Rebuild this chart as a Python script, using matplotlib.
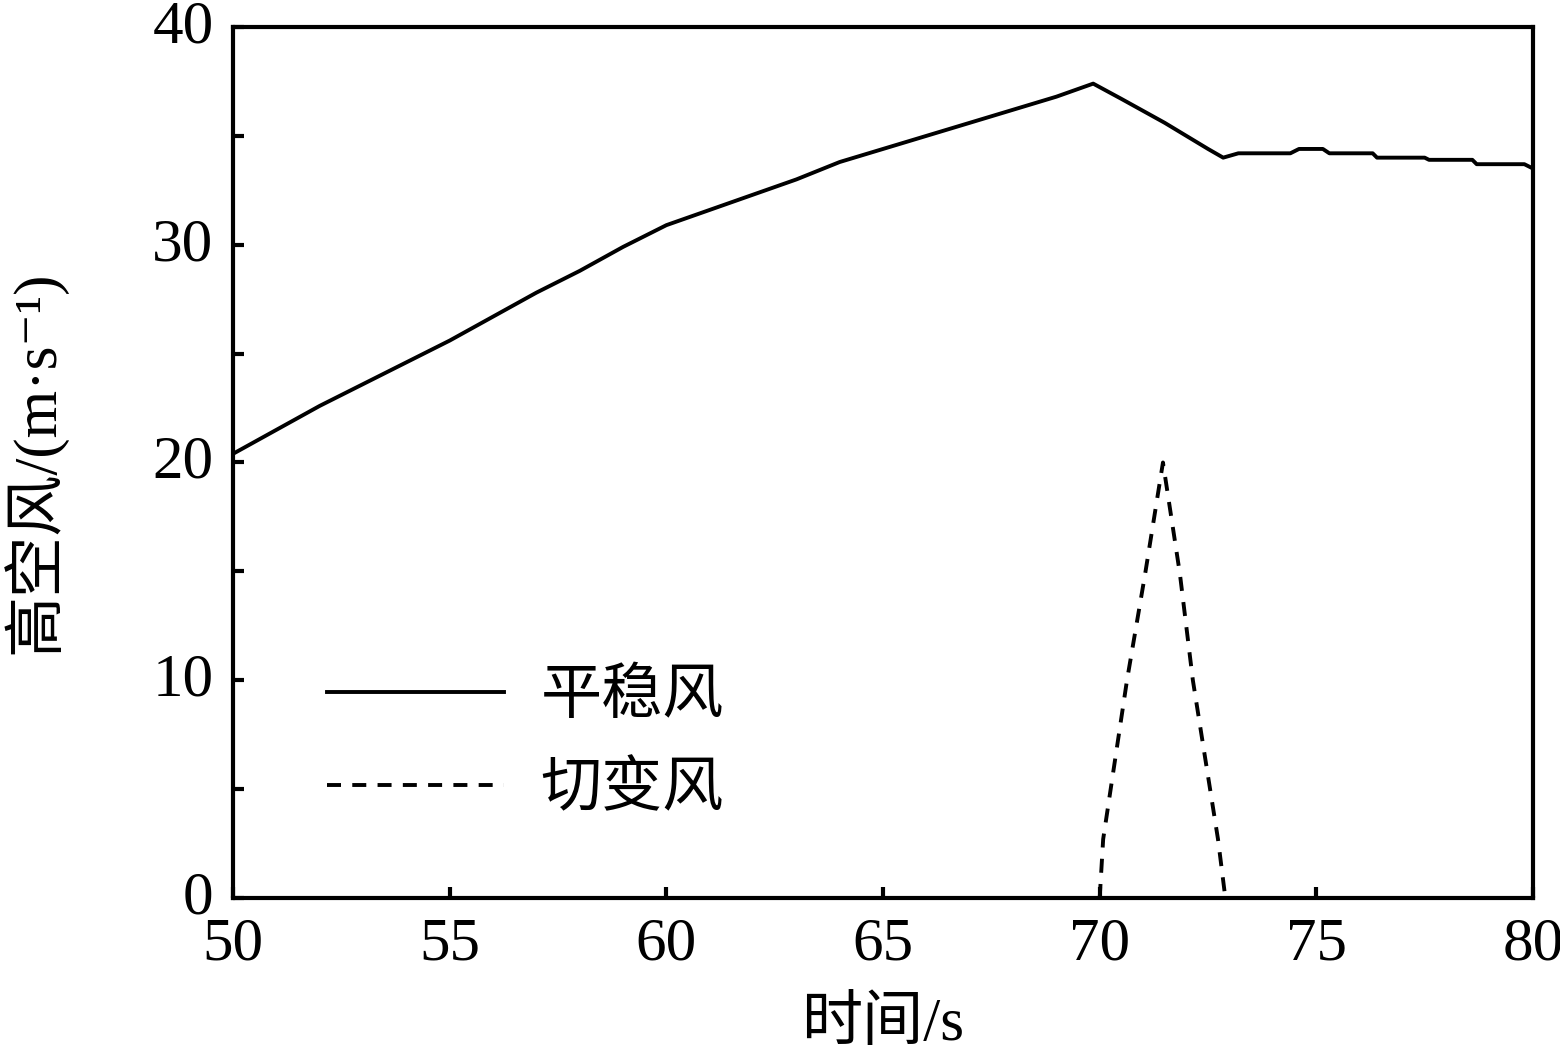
import matplotlib
matplotlib.use("Agg")
import matplotlib.pyplot as plt
import matplotlib.transforms as mtransforms
from matplotlib.ticker import MultipleLocator

plt.rcParams['font.family'] = ['Liberation Serif', 'Noto Sans CJK SC', 'DejaVu Sans']
plt.rcParams['axes.unicode_minus'] = True

# steady wind (平稳风)
steady_t = [50, 51, 52, 53, 54, 55, 56, 57, 58, 59, 60, 61, 62, 63, 64, 65, 66, 67, 68, 69,
            69.85, 70.5, 71.5, 72.5, 72.85, 73.2, 74.4, 74.6, 75.15, 75.3, 76.3, 76.4,
            77.5, 77.6, 78.6, 78.7, 79.8, 80]
steady_v = [20.4, 21.5, 22.6, 23.6, 24.6, 25.6, 26.7, 27.8, 28.8, 29.9, 30.9, 31.6, 32.3, 33.0,
            33.8, 34.4, 35.0, 35.6, 36.2, 36.8, 37.4, 36.7, 35.6, 34.4, 34.0, 34.2, 34.2,
            34.4, 34.4, 34.2, 34.2, 34.0, 34.0, 33.9, 33.9, 33.7, 33.7, 33.5]

# shear wind (切变风)
shear_t = [70.0, 70.08, 70.63, 71.05, 71.46, 71.85, 72.15, 72.73, 72.9]
shear_v = [0, 2.7, 10.0, 14.9, 20.0, 14.9, 10.0, 2.7, 0]

labels = ['平稳风', '切变风']

fig = plt.figure(figsize=(15.6, 10.51), dpi=100)
ax = fig.add_axes([0.1494, 0.1456, 0.8333, 0.8287])

ax.plot(steady_t, steady_v, color='black', lw=2.8, label=labels[0])
ax.plot(shear_t, shear_v, color='black', lw=2.8, dashes=(3.6, 2.9), label=labels[1])

ax.set_xlim(50, 80)
ax.set_ylim(0, 40)
ax.xaxis.set_major_locator(MultipleLocator(5))
ax.yaxis.set_major_locator(MultipleLocator(10))
ax.yaxis.set_minor_locator(MultipleLocator(5))
ax.tick_params(axis='both', which='both', direction='in', top=False, right=False,
               width=3, labelsize=44)
ax.tick_params(axis='both', which='major', length=8)
ax.tick_params(axis='y', which='minor', length=8)
ax.tick_params(axis='y', which='major', pad=14)
ax.tick_params(axis='x', which='major', pad=14)
shift = mtransforms.ScaledTranslation(0, 6 / 100, fig.dpi_scale_trans)
for lbl in ax.get_yticklabels():
    lbl.set_verticalalignment('center_baseline')
    lbl.set_transform(lbl.get_transform() + shift)
for s in ax.spines.values():
    s.set_linewidth(3)

ax.set_xlabel('时间/s', fontsize=44, labelpad=17)
ax.set_ylabel('高空风/(m·s⁻¹)', fontsize=44, labelpad=62)

leg = ax.legend(loc='center left', bbox_to_anchor=(0.072, 0.176), frameon=False,
                fontsize=44, handlelength=2.9, handletextpad=0.6, borderpad=0,
                borderaxespad=0, labelspacing=0.6)

fig.savefig('out.png', dpi=100)
